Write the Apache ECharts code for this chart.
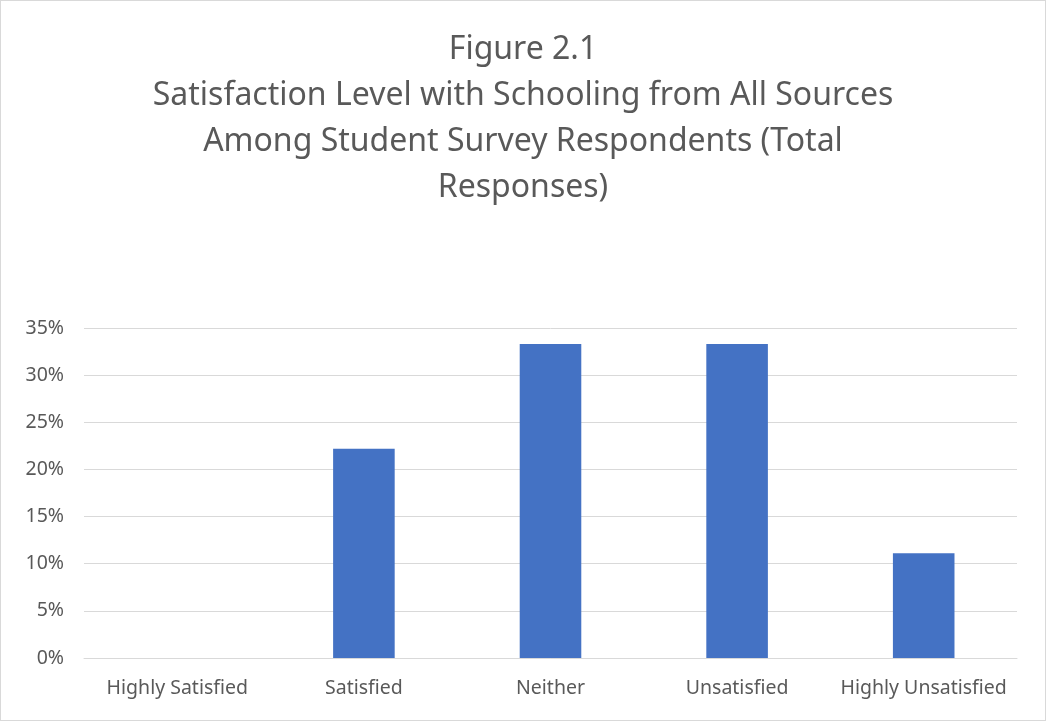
<!DOCTYPE html>
<html>
<head>
<meta charset="utf-8">
<script src="https://cdn.jsdelivr.net/npm/echarts@6/dist/echarts.min.js"></script>
<style>
html, body { margin: 0; padding: 0; background: #fff; }
#chart { width: 1046px; height: 721px; box-sizing: border-box; border: 1px solid #d9d9d9; }
</style>
</head>
<body>
<div id="chart"></div>
<script>
// chart data
var categories = ['Highly Satisfied', 'Satisfied', 'Neither', 'Unsatisfied', 'Highly Unsatisfied']
var shares = [0, 22.2, 33.3, 33.3, 11.1]
var titleLines = [
  'Figure 2.1',
  'Satisfaction Level with Schooling from All Sources',
  'Among Student Survey Respondents (Total',
  'Responses)'
]

var chart = echarts.init(document.getElementById('chart'))
chart.setOption({
  animation: false,
  textStyle: { fontFamily: 'Noto Sans' },
  title: {
    text: titleLines.join('\n'),
    left: 'center',
    top: 21,
    textStyle: {
      fontFamily: 'Noto Sans',
      fontSize: 32,
      fontWeight: 'normal',
      color: '#595959',
      lineHeight: 46
    }
  },
  grid: { left: 83, right: 28, top: 327, bottom: 62 },
  xAxis: {
    type: 'category',
    data: categories,
    axisLine: { lineStyle: { color: '#d9d9d9' } },
    axisTick: { show: false },
    axisLabel: { color: '#595959', fontSize: 19.5, margin: 20, interval: 0 }
  },
  yAxis: {
    type: 'value',
    min: 0,
    max: 35,
    interval: 5,
    axisLabel: { color: '#595959', fontSize: 19.5, formatter: '{value}%', margin: 20 },
    splitLine: { lineStyle: { color: '#d9d9d9' } },
    axisLine: { show: false },
    axisTick: { show: false }
  },
  series: [{
    type: 'bar',
    data: shares,
    barWidth: '33%',
    itemStyle: { color: '#4472c4' }
  }]
})
</script>
</body>
</html>
